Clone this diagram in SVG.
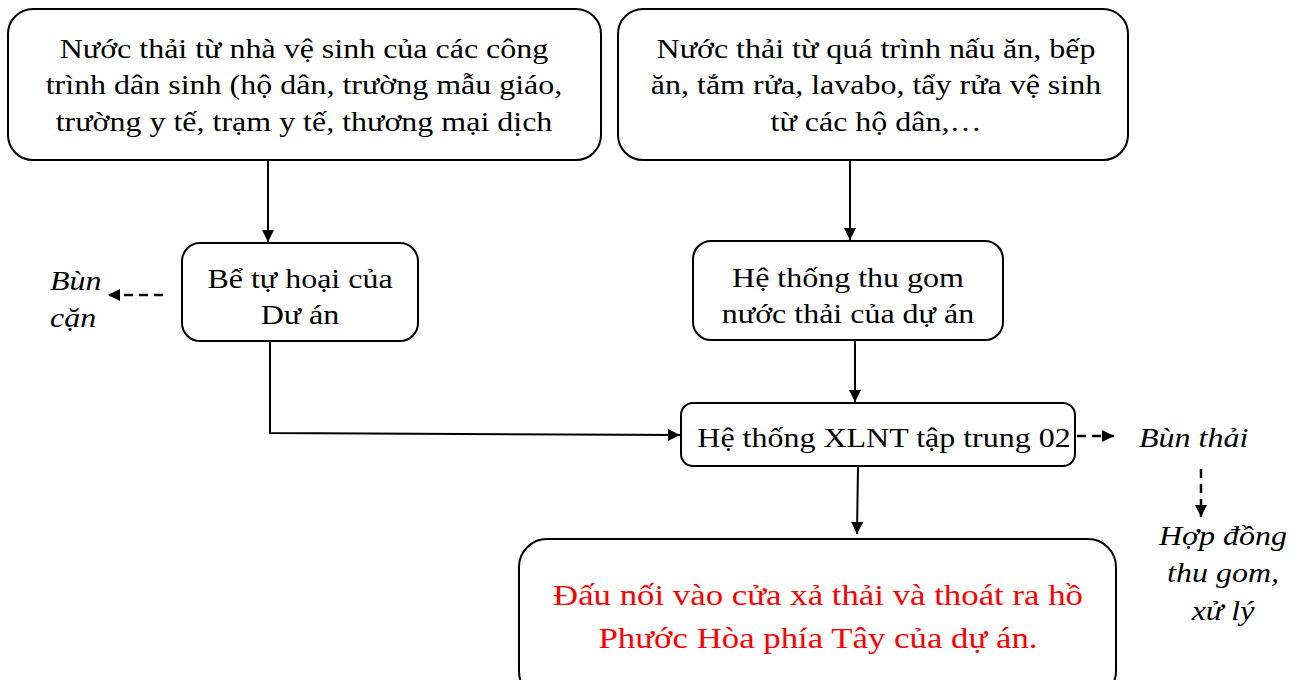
<svg xmlns="http://www.w3.org/2000/svg" width="1305" height="680" viewBox="0 0 1305 680">
<defs>
<marker id="ahs" markerWidth="12" markerHeight="12" refX="12" refY="6" orient="auto" markerUnits="userSpaceOnUse"><path d="M0,0 L12,6 L0,12 Z" fill="#000"/></marker>
<style>
.box{fill:#fff;stroke:#000;stroke-width:2}
.t{font-family:"Liberation Serif","Times New Roman",serif;font-size:27px;fill:#000;text-anchor:middle}
.i{font-family:"Liberation Serif","Times New Roman",serif;font-size:27px;font-style:italic;fill:#000}
.red{fill:#ff0000;font-size:29.5px}
.ln{stroke:#000;stroke-width:2;fill:none}
.dash{stroke:#000;stroke-width:2.5;fill:none;stroke-dasharray:9,6}
</style>
</defs>
<rect width="1305" height="680" fill="#fff"/>
<g id="connectors">
<line class="ln" x1="268" y1="160" x2="268" y2="242" marker-end="url(#ahs)"/>
<line class="ln" x1="850" y1="160" x2="850" y2="240" marker-end="url(#ahs)"/>
<line class="ln" x1="855" y1="340" x2="855" y2="402" marker-end="url(#ahs)"/>
<polyline class="ln" points="270,341 270,433 680,435" marker-end="url(#ahs)"/>
<line class="ln" x1="858" y1="466" x2="857" y2="534" marker-end="url(#ahs)"/>
<line class="dash" x1="163" y1="295" x2="108" y2="295" marker-end="url(#ahs)"/>
<line class="dash" x1="1077" y1="436" x2="1114" y2="436" marker-end="url(#ahs)"/>
<line class="dash" x1="1201" y1="469" x2="1201" y2="517" marker-end="url(#ahs)"/>
</g>
<g id="node1">
<rect class="box" x="8" y="9" width="593" height="151" rx="25"/>
<text class="t" transform="translate(304,58) scale(1.185,1)">Nước thải từ nhà vệ sinh của các công</text>
<text class="t" transform="translate(304,94) scale(1.185,1)">trình dân sinh (hộ dân, trường mẫu giáo,</text>
<text class="t" transform="translate(304,131) scale(1.185,1)">trường y tế, trạm y tế, thương mại dịch</text>
</g>
<g id="node2">
<rect class="box" x="618" y="9" width="510" height="151" rx="25"/>
<text class="t" transform="translate(876,58) scale(1.185,1)">Nước thải từ quá trình nấu ăn, bếp</text>
<text class="t" transform="translate(876,94) scale(1.185,1)">ăn, tắm rửa, lavabo, tẩy rửa vệ sinh</text>
<text class="t" transform="translate(876,131) scale(1.185,1)">từ các hộ dân,…</text>
</g>
<g id="node3">
<rect class="box" x="182" y="243" width="236" height="98" rx="18"/>
<text class="t" transform="translate(300,288) scale(1.185,1)">Bể tự hoại của</text>
<text class="t" transform="translate(300,324) scale(1.185,1)">Dư án</text>
</g>
<g id="bun-can">
<text class="i" transform="translate(50,290) scale(1.185,1)">Bùn</text>
<text class="i" transform="translate(50,327) scale(1.185,1)">cặn</text>
</g>
<g id="node4">
<rect class="box" x="693" y="241" width="310" height="99" rx="18"/>
<text class="t" transform="translate(848,287) scale(1.185,1)">Hệ thống thu gom</text>
<text class="t" transform="translate(848,323) scale(1.185,1)">nước thải của dự án</text>
</g>
<g id="node5">
<rect class="box" x="681" y="403" width="394" height="63" rx="12"/>
<text class="t" transform="translate(884,447) scale(1.185,1)">Hệ thống XLNT tập trung 02</text>
</g>
<g id="bun-thai">
<text class="i" transform="translate(1139,447) scale(1.185,1)">Bùn thải</text>
</g>
<g id="hop-dong">
<text class="i" text-anchor="middle" transform="translate(1223,545) scale(1.185,1)">Hợp đồng</text>
<text class="i" text-anchor="middle" transform="translate(1223,582) scale(1.185,1)">thu gom,</text>
<text class="i" text-anchor="middle" transform="translate(1223,620) scale(1.185,1)">xử lý</text>
</g>
<g id="node6">
<rect class="box" x="519" y="539" width="597" height="160" rx="28"/>
<text class="t red" transform="translate(818,605) scale(1.18,1)">Đấu nối vào cửa xả thải và thoát ra hồ</text>
<text class="t red" transform="translate(818,648) scale(1.18,1)">Phước Hòa phía Tây của dự án.</text>
</g>
</svg>
